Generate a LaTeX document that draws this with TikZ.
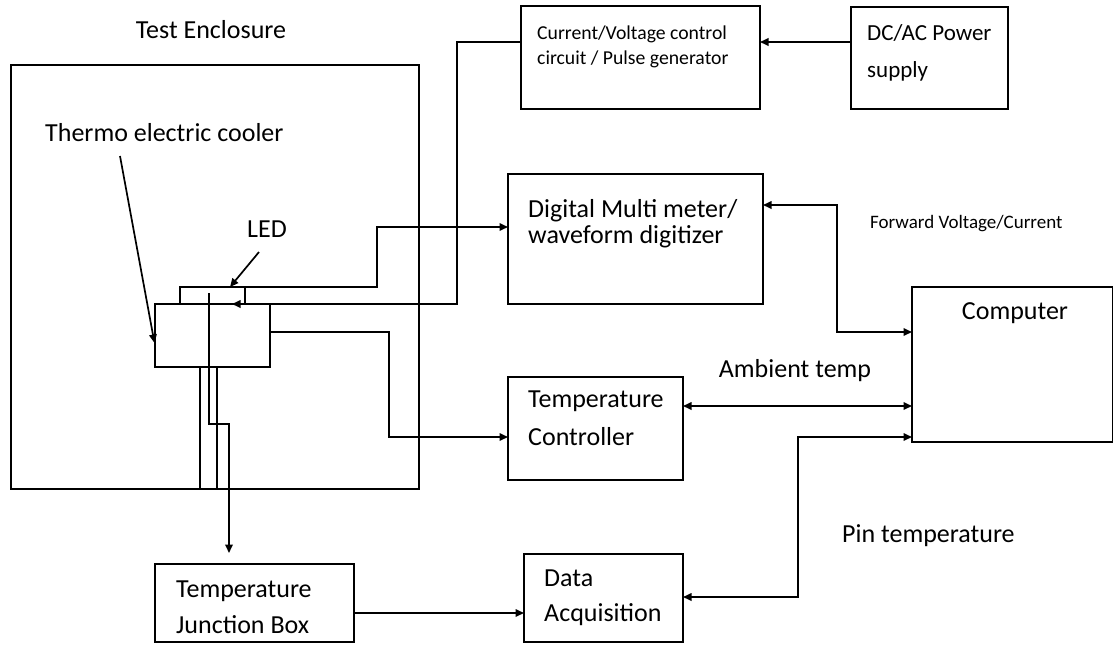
\documentclass[tikz,border=0pt]{standalone}
\usepackage{fontspec}
\setmainfont{Carlito}
\usetikzlibrary{arrows.meta}
\begin{document}
\begin{tikzpicture}[x=1pt,y=-1pt,
  box/.style={draw, line width=1.2pt, inner sep=0pt, outer sep=0pt, anchor=north west},
  wire/.style={line width=1.7pt},
  arr/.style={wire,-{Triangle[length=8.5pt,width=7.5pt]}},
  darr/.style={wire,{Triangle[length=8.5pt,width=7.5pt]}-{Triangle[length=8.5pt,width=7.5pt]}},
  lbl/.style={inner sep=0pt, anchor=base west, font=\fontsize{26}{31}\selectfont},
  lblm/.style={inner sep=0pt, anchor=base west, font=\fontsize{19.7}{24}\selectfont},
  lbls/.style={inner sep=0pt, anchor=base west, font=\fontsize{19}{22}\selectfont},
]
\useasboundingbox (0,0) rectangle (1114,646);

% boxes
\node[box, minimum width=408pt, minimum height=424pt] (enc) at (11,65) {};
\node[box, minimum width=115pt, minimum height=63pt] (tec) at (155,304) {};
\node[box, minimum width=65pt, minimum height=17pt] (led) at (180,287) {};
\node[box, minimum width=17pt, minimum height=122pt] (leg) at (200,367) {};
\node[box, minimum width=239pt, minimum height=103pt] (cur) at (521,6) {};
\node[box, minimum width=157pt, minimum height=102pt] (ps) at (851,7) {};
\node[box, minimum width=255pt, minimum height=130pt] (dmm) at (508,174) {};
\node[box, minimum width=200.5pt, minimum height=155pt] (comp) at (912,287) {};
\node[box, minimum width=175pt, minimum height=103pt] (tc) at (508,377) {};
\node[box, minimum width=159pt, minimum height=88pt] (daq) at (524,554) {};
\node[box, minimum width=199pt, minimum height=78pt] (jb) at (155,564) {};

% texts
\node[lbl, anchor=base] (tEnc) at (211,38.4) {Test Enclosure};
\node[lbl] (tTec) at (45,141) {Thermo electric cooler};
\node[lbl, anchor=base] (tLed) at (267,237) {LED};
\node[lblm] (tCur1) at (537,39.3) {Current/Voltage control};
\node[lblm] (tCur2) at (537,64) {circuit / Pulse generator};
\node[lbl, font=\fontsize{23}{27}\selectfont] (tPs1) at (867,40) {DC/AC Power};
\node[lbl, font=\fontsize{23}{27}\selectfont] (tPs2) at (867,77) {supply};
\node[lbl] (tDmm1) at (528,217) {Digital Multi meter/};
\node[lbl] (tDmm2) at (528,243.3) {waveform digitizer};
\node[lbls] (tFwd) at (870,228) {Forward Voltage/Current};
\node[lbl, anchor=base] (tComp) at (1015,319.3) {Computer};
\node[lbl, anchor=base] (tAmb) at (795,377) {Ambient temp};
\node[lbl] (tTc1) at (528,407) {Temperature};
\node[lbl] (tTc2) at (528,445) {Controller};
\node[lbl] (tPin) at (842,542) {Pin temperature};
\node[lbl] (tDaq1) at (544,586.7) {Data};
\node[lbl] (tDaq2) at (544,621.7) {Acquisition};
\node[lbl] (tJb1) at (176,597) {Temperature};
\node[lbl] (tJb2) at (176,633) {Junction Box};

% named free ends
\coordinate (ledin) at (232,304);
\coordinate (tcstart) at (209,293);
\coordinate (tcend) at (229,553);
\coordinate (tecArrS) at (120,156);
\coordinate (tecArrE) at (154.5,343);
\coordinate (ledArrS) at (259,252);
\coordinate (ledArrE) at (230,287);

% connectors
\draw[arr] (ps.west |- 0,42) -- (cur.east |- 0,42);
\draw[arr] (cur.west |- 0,42) -| (457,304) -- (ledin);
\draw[arr] (led.north east) -- (377,287) |- (dmm.west |- 0,227);
\draw[darr] (dmm.east |- 0,205) -| (837,332) -- (comp.west |- 0,332);
\draw[arr] (tec.east |- 0,332) -| (389,437) -- (tc.west |- 0,437);
\draw[darr] (tc.east |- 0,406) -- (comp.west |- 0,406);
\draw[darr] (comp.west |- 0,437) -| (798,597) -- (daq.east |- 0,597);
\draw[arr] (jb.east |- 0,613) -- (daq.west |- 0,613);
\draw[arr] (tcstart) |- (229,424) -- (tcend);
\draw[arr] (tecArrS) -- (tecArrE);
\draw[arr] (ledArrS) -- (ledArrE);
\end{tikzpicture}
\end{document}
